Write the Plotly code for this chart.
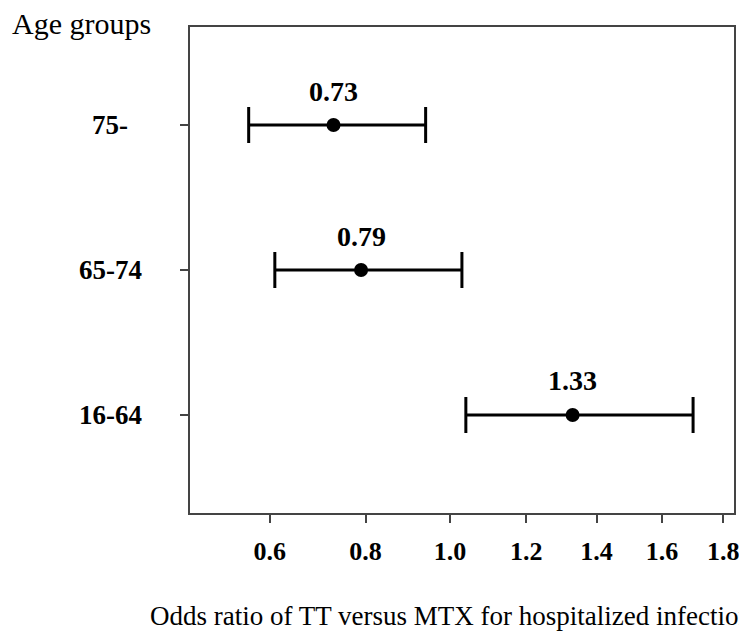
import numpy as np
import plotly.graph_objects as go

# Data
groups = ["16-64", "65-74", "75-"]
odds_ratio = [1.33, 0.79, 0.73]
ci_low = [1.04, 0.61, 0.56]
ci_high = [1.70, 1.03, 0.94]
x_ticks = [0.6, 0.8, 1.0, 1.2, 1.4, 1.6, 1.8]
x_tick_labels = ["0.6", "0.8", "1.0", "1.2", "1.4", "1.6", "1.8"]

# axis uses a square-root scale
tr = np.sqrt
ypos = list(range(1, len(groups) + 1))
xs = tr(np.array(odds_ratio))
err_plus = tr(np.array(ci_high)) - xs
err_minus = xs - tr(np.array(ci_low))

FONT = "Liberation Serif, Times New Roman, serif"

# page offset (browser body margin)
OFF = 8
W, H = 747, 644
# desired screen positions of plot box
SL, SR, ST, SB = 190, 734, 27, 513
L = SL - OFF
T = ST - OFF
R = W - (SR - OFF)
B = H - (SB - OFF)
pw, ph = W - L - R, H - T - B


def px(x):
    return (x - OFF - L) / pw


def py(y):
    return (H - B - (y - OFF)) / ph


fig = go.Figure()
fig.add_trace(go.Scatter(
    x=xs, y=ypos, mode="markers",
    marker=dict(color="black", size=14, symbol="circle"),
    error_x=dict(type="data", symmetric=False, array=err_plus, arrayminus=err_minus,
                 color="black", thickness=3, width=18),
    showlegend=False, cliponaxis=False,
))

annotations = []
for g, yv, xv, orv in zip(groups, ypos, xs, odds_ratio):
    annotations.append(dict(x=xv, y=yv, xref="x", yref="y", text=f"<b>{orv:.2f}</b>",
                            showarrow=False, yshift=34,
                            font=dict(family=FONT, size=28, color="black")))
    annotations.append(dict(x=px(110), y=yv, xref="paper", yref="y", text=f"<b>{g}</b>",
                            showarrow=False, xanchor="center",
                            font=dict(family=FONT, size=27, color="black")))
annotations.append(dict(x=px(10), y=py(23), xref="paper", yref="paper", text="Age groups",
                        xanchor="left", yanchor="middle", showarrow=False,
                        font=dict(family=FONT, size=30, color="black")))
annotations.append(dict(x=px(148), y=py(616), xref="paper", yref="paper",
                        xanchor="left", yanchor="middle", showarrow=False,
                        text="Odds ratio of TT versus MTX for hospitalized infections",
                        font=dict(family=FONT, size=27, color="black")))

fig.update_layout(
    width=W, height=H,
    margin=dict(l=L, r=R, t=T, b=B, pad=0),
    paper_bgcolor="white", plot_bgcolor="white",
    font=dict(family=FONT, color="black"),
    annotations=annotations,
    xaxis=dict(
        range=[tr(0.4556), tr(1.836)],
        tickvals=tr(np.array(x_ticks)), ticktext=[f"<b>{t}</b>" for t in x_tick_labels],
        ticks="outside", ticklen=8, tickwidth=2, tickcolor="#444",
        tickfont=dict(family=FONT, size=26, color="black"),
        ticklabelstandoff=6,
        showgrid=False, zeroline=False,
        showline=True, linecolor="#444", linewidth=2, mirror=True,
    ),
    yaxis=dict(
        range=[0.324, 3.676],
        tickvals=ypos, showticklabels=False,
        ticks="outside", ticklen=8, tickwidth=1.5, tickcolor="#444",
        showgrid=False, zeroline=False,
        showline=True, linecolor="#444", linewidth=2, mirror=True,
    ),
)

fig.write_html("out.html")
